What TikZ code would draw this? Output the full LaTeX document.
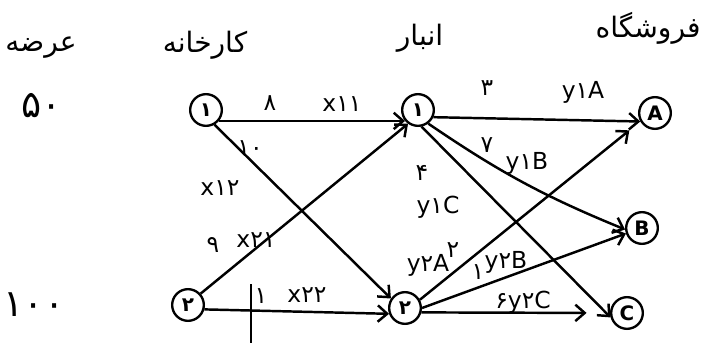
\documentclass[tikz,border=0pt]{standalone}
\usepackage{fontspec}
\TeXXeTstate=1
\newfontfamily\fa[Script=Arabic]{DejaVu Sans}
\usetikzlibrary{arrows.meta}
\begin{document}
\begin{tikzpicture}[x=0.03cm,y=-0.03cm,
  pnode/.style={circle,draw,line width=2pt,inner sep=0pt,minimum size=0.95cm,font=\fa\bfseries\fontsize{17}{17}\selectfont},
  lbl/.style={inner sep=0pt,font=\fa\fontsize{20}{20}\selectfont},
  hdr/.style={inner sep=0pt,font=\fa\fontsize{24}{24}\selectfont},
  big/.style={inner sep=0pt,font=\fa\fontsize{32}{32}\selectfont},
  arr/.style={line width=2.1pt,-{Straight Barb[length=8pt,width=14pt]}}]
\useasboundingbox[fill=white] (0,0) rectangle (702,343);
% headers
\node[hdr] (h1) at (41,48) {\beginR عرضه\endR};
\node[hdr] (h2) at (205,45) {\beginR کارخانه\endR};
\node[hdr] (h3) at (420,38) {\beginR انبار\endR};
\node[hdr] (h4) at (648,28) {\beginR فروشگاه\endR};
% supplies
\node[big] (s1) at (42,106) {۵۰};
\node[big] (s2) at (34,305) {۱۰۰};
% nodes
\node[pnode] (F1) at (206,110) {۱};
\node[pnode] (F2) at (188,305) {۲};
\node[pnode] (W1) at (418,110) {۱};
\node[pnode] (W2) at (405,308) {۲};
\node[pnode] (A) at (655,113) {A};
\node[pnode] (B) at (642,228) {B};
\node[pnode] (C) at (627,313) {C};
% connectors
\draw[arr] (F1.-40) -- (W1.-140);
\draw[arr] (F1.-60) -- (W2.146);
\draw[arr] (F2.42) -- (W1.234);
\draw[arr] (F2.-15) -- (W2.200);
\draw[arr] (W1.-25) -- (A.-150);
\draw[arr] (W1.-53) to[bend right=6] (B.185);
\draw[arr] (W1.-78) -- (C.195);
\draw[arr,shorten >=12pt] (W2.29) -- (A.210);
\draw[arr] (W2.0) -- (B.199);
\draw[arr,shorten >=20pt] (W2.-15) -- (C.180);
% tick stroke
\coordinate (t1) at (251,284);
\coordinate (t2) at (251,343);
\draw[line width=2.1pt] (t1) -- (t2);
% labels
\node[lbl] (l1) at (270,103) {۸};
\node[lbl] (l2) at (342,104) {x۱۱};
\node[lbl] (l3) at (250,148) {۱۰};
\node[lbl] (l4) at (220,188) {x۱۲};
\node[lbl] (l5) at (213,245) {۹};
\node[lbl] (l6) at (256,240) {x۲۱};
\node[lbl] (l7) at (261,296) {۱};
\node[lbl] (l8) at (307,295) {x۲۲};
\node[lbl] (l9) at (487,88) {۳};
\node[lbl] (l10) at (583,92) {y۱A};
\node[lbl] (l11) at (487,145) {۷};
\node[lbl] (l12) at (527,163) {y۱B};
\node[lbl] (l13) at (422,173) {۴};
\node[lbl] (l14) at (438,207) {y۱C};
\node[lbl] (l15) at (428,265) {y۲A};
\node[lbl] (l16) at (453,250) {۲};
\node[lbl] (l17) at (478,272) {۱};
\node[lbl] (l18) at (506,262) {y۲B};
\node[lbl] (l19) at (523,302) {۶y۲C};
\end{tikzpicture}
\end{document}
